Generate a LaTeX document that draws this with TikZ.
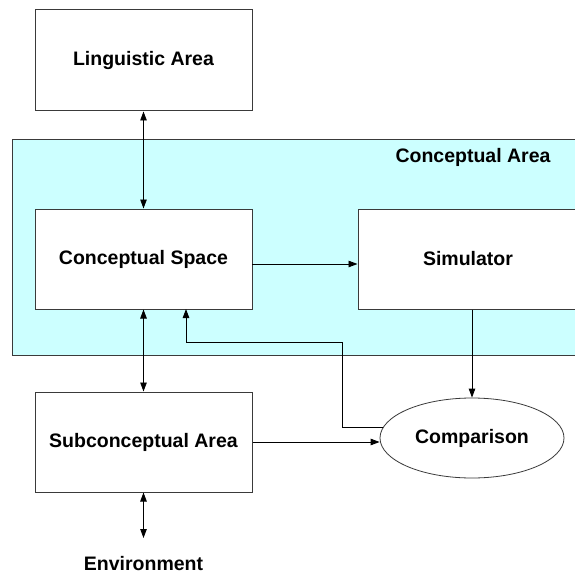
\documentclass[tikz,border=0pt]{standalone}
\usepackage{fontspec}
\setmainfont{Liberation Sans}
\usetikzlibrary{arrows.meta,calc,shapes.geometric}
\definecolor{cyanbg}{HTML}{CCFFFF}
\definecolor{ln}{HTML}{3A3A3A}
\begin{document}
\begin{tikzpicture}[x=1pt,y=-1pt,
  lbl/.style={font=\fontsize{19.5}{22}\selectfont\bfseries, text=black},
  box/.style={lbl, draw=ln, fill=white, line width=1pt, minimum width=217pt, minimum height=100pt, inner sep=0pt},
  tip/.tip={Triangle[length=9pt,width=6.5pt]},
  arr/.style={draw=black, line width=0.9pt, -tip},
  darr/.style={draw=black, line width=0.9pt, tip-tip}]
\useasboundingbox (0,0) rectangle (575,575);
\clip (0,0) rectangle (575,575);
\fill[white] (0,0) rectangle (575,575);
% conceptual area
\node[draw=ln, fill=cyanbg, line width=1pt, minimum width=580pt, minimum height=216pt, inner sep=0pt, anchor=north west] (ca) at (12,139) {};
\node[lbl] (calabel) at (473,157) {Conceptual Area};
% boxes
\node[box, minimum height=101pt] (ling) at (143.5,60.5) {Linguistic Area};
\node[box] (cs) at (143.5,259) {Conceptual Space};
\node[box, minimum width=220pt] (sim) at (468,259) {Simulator};
\node[box] (sub) at (143.5,442) {Subconceptual Area};
\node[lbl, draw=ln, fill=white, line width=0.8pt, ellipse, minimum width=184pt, minimum height=80pt, inner sep=0pt] (cmp) at (472,438) {Comparison};
\node[lbl, inner sep=0pt] (env) at (143.5,564) {Environment};
\coordinate (envtop) at (143.5,538);
\coordinate (fb) at (342,342);
\coordinate (fbend) at (186,309);
\coordinate (csr) at (252,264);
% connectors
\draw[darr] (ling.south) -- (cs.north);
\draw[darr] (cs.south) -- (sub.north);
\draw[darr] (sub.south) -- (envtop);
\draw[arr] (csr) -- (csr -| sim.west);
\draw[arr] (cmp.north |- sim.south) -- (cmp.north);
\draw[arr] (sub.east) -- (sub.east -| cmp.west);
\draw[arr] (cmp.173.6) -| (fb) -| (fbend);
\end{tikzpicture}
\end{document}
